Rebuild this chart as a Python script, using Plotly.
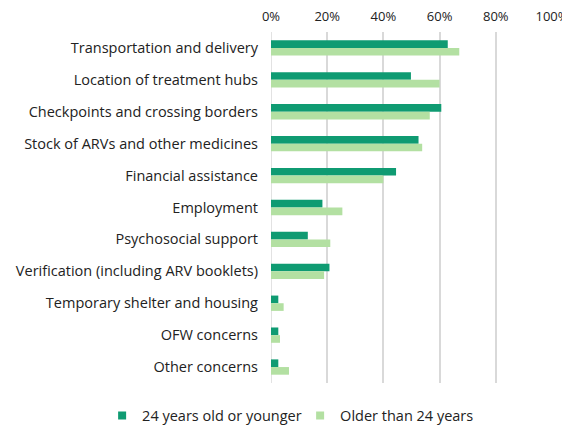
import plotly.graph_objects as go

categories = [
    "Transportation and delivery",
    "Location of treatment hubs",
    "Checkpoints and crossing borders",
    "Stock of ARVs and other medicines",
    "Financial assistance",
    "Employment",
    "Psychosocial support",
    "Verification (including ARV booklets)",
    "Temporary shelter and housing",
    "OFW concerns",
    "Other concerns",
]
young = [62.9, 49.8, 60.6, 52.5, 44.5, 18.3, 13.1, 20.8, 2.6, 2.6, 2.6]
older = [67.0, 60.0, 56.5, 53.8, 40.0, 25.4, 21.1, 18.9, 4.5, 3.2, 6.4]
series_names = ["24 years old or younger", "Older than 24 years"]
tick_vals = [0, 20, 40, 60, 80, 100]
tick_text = ["0%", "20%", "40%", "60%", "80%", "100%"]
colors = ["#0f9b72", "#b3e0a2"]

fig = go.Figure()
for vals, name, col in zip([young, older], series_names, colors):
    fig.add_trace(go.Bar(y=categories, x=vals, name=name, orientation="h",
                         marker=dict(color=col, line=dict(width=0)), showlegend=False))
for name, col in zip(series_names, colors):
    fig.add_trace(go.Scatter(x=[None], y=[None], mode="markers", name=name,
                             marker=dict(symbol="square", size=8, color=col)))

fig.update_layout(
    width=562, height=417,
    margin=dict(l=263, r=18, t=24, b=42, autoexpand=False),
    barmode="group", bargap=0.52, bargroupgap=0,
    plot_bgcolor="white", paper_bgcolor="white",
    font=dict(family="Open Sans, sans-serif", size=14.5, color="#222222"),
    legend=dict(orientation="h", x=-0.601, xanchor="left", y=-0.093, yanchor="middle",
                traceorder="normal", font=dict(size=14.5), itemwidth=30,
                entrywidth=153, tracegroupgap=0),
    xaxis=dict(side="top", range=[0, 100], tickvals=tick_vals, ticktext=tick_text,
               showgrid=True, gridcolor="#d9d9d9", gridwidth=1.5,
               zeroline=False, showline=False, ticks="", fixedrange=True,
               automargin=False, ticklabelstandoff=7, tickfont=dict(size=13)),
    yaxis=dict(autorange="reversed", showgrid=False, ticks="", ticklabelstandoff=12,
               showline=False, zeroline=False, automargin=False),
)
fig.add_vline(x=0, line=dict(color="#d9d9d9", width=1.5), layer="below")

fig.write_html(
    "out.html",
    post_script="document.documentElement.style.overflow='hidden';"
                "document.body.style.overflow='hidden';",
)
